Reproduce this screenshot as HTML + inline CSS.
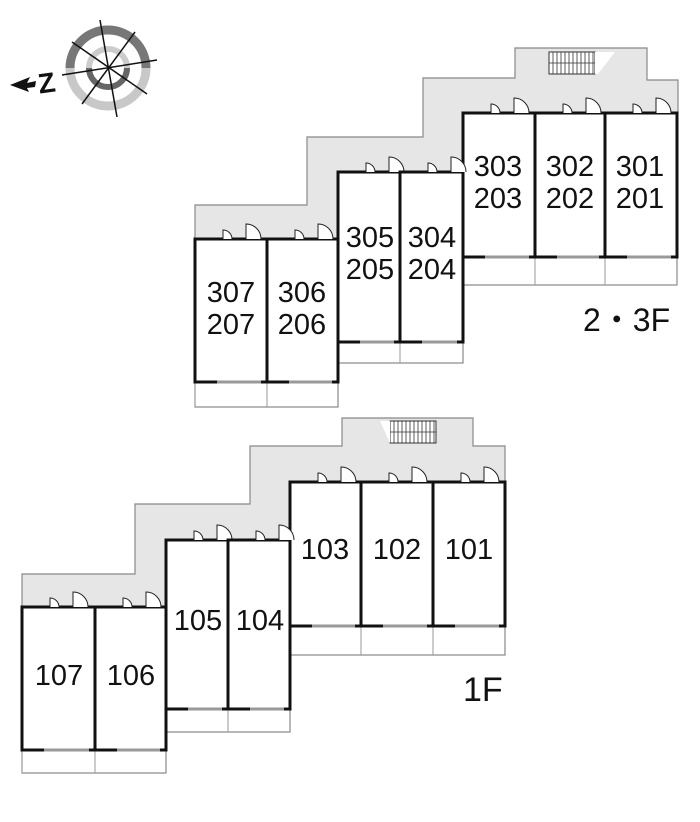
<!DOCTYPE html>
<html><head><meta charset="utf-8"><style>
html,body{margin:0;padding:0;background:#fff;}
svg{display:block;}
text{font-family:"Liberation Sans",sans-serif;fill:#111;}
</style></head><body>
<svg id="s" width="700" height="822" viewBox="0 0 700 822" xmlns="http://www.w3.org/2000/svg">
<g>
<path d="M70,68 A38,38 0 0 1 146,68" fill="none" stroke="#777" stroke-width="9"/>
<path d="M70,68 A38,38 0 0 0 146,68" fill="none" stroke="#c8c8c8" stroke-width="9"/>
<circle cx="108" cy="68" r="19" fill="none" stroke="#ccc" stroke-width="6"/>
<path d="M89,68 A19,19 0 0 0 127,68" fill="none" stroke="#666" stroke-width="6"/>
<line x1="100" y1="20" x2="117" y2="117" stroke="#111" stroke-width="1.5"/>
<line x1="72" y1="42" x2="147" y2="94" stroke="#111" stroke-width="1.5"/>
<line x1="135" y1="32" x2="82" y2="104" stroke="#111" stroke-width="1.5"/>
<line x1="62" y1="75" x2="157" y2="60" stroke="#111" stroke-width="1.5"/>
<polygon points="10,85 30,77 27,83 36,81 35,87 27,88 29,92" fill="#111"/>
<text x="38" y="92" font-size="28" font-weight="bold" transform="rotate(-8 50 82)">Z</text>
</g>
<g id="plan"></g>
<text x="583" y="331" font-size="32">2・3F</text>
<text x="463" y="701" font-size="34">1F</text>
</svg>
<script>
var g=document.getElementById('plan'),NS='http://www.w3.org/2000/svg';
function el(t,a){var e=document.createElementNS(NS,t);for(var k in a)e.setAttribute(k,a[k]);g.appendChild(e);return e;}
el('path',{d:'M195,239 L195,205 L307,205 L307,137 L423,137 L423,78 L515,78 L515,48 L647,48 L647,80 L678,80 L678,113 L463,113 L463,172 L338,172 L338,239 Z',fill:'#e6e6e6',stroke:'#888','stroke-width':1.2});
el('path',{d:'M22,607 L22,574 L135,574 L135,504 L250,504 L250,446 L342,446 L342,418 L473,418 L473,446 L505,446 L505,482 L290,482 L290,540 L166,540 L166,607 Z',fill:'#e6e6e6',stroke:'#888','stroke-width':1.2});
function stairs(x,y,w,h){el('rect',{x:x,y:y,width:w,height:h,fill:'#fff',stroke:'#333','stroke-width':1});for(var i=x+4;i<x+w;i+=4)el('line',{x1:i,y1:y,x2:i,y2:y+h,stroke:'#333','stroke-width':0.8});el('line',{x1:x,y1:y+h/2,x2:x+w,y2:y+h/2,stroke:'#333','stroke-width':0.8});}
stairs(549,52,46,22);stairs(390,421,46,22);
el('polygon',{points:'595,52 615,52 598,74 595,74',fill:'#fff'});
el('polygon',{points:'380,421 390,421 390,443',fill:'#fff'});
function block(x0,divs,x1,yt,yb,ybal){
 el('rect',{x:x0,y:yb,width:x1-x0,height:ybal-yb,fill:'#fff',stroke:'#888','stroke-width':1.2});
 var xs=[x0].concat(divs).concat([x1]);
 for(var i=0;i<xs.length-1;i++){
  var L=xs[i],R=xs[i+1];
  el('line',{x1:L,y1:yb,x2:L,y2:ybal,stroke:'#999','stroke-width':1});
  el('rect',{x:L,y:yt,width:R-L,height:yb-yt,fill:'#fff',stroke:'#111','stroke-width':3});
  var s=L+28,b=L+51;
  el('path',{d:'M'+s+','+yt+' v-9 a9,9 0 0 1 9,9',fill:'#fff',stroke:'#222','stroke-width':1});
  el('path',{d:'M'+b+','+yt+' v-15 a15,15 0 0 1 15,15',fill:'#fff',stroke:'#222','stroke-width':1});
  el('line',{x1:L+22,y1:yb,x2:R-6,y2:yb,stroke:'#999','stroke-width':3});
 }
}
function lab(x,y,s){var t=el('text',{x:x,y:y,'font-size':29,'text-anchor':'middle'});t.textContent=s;}
block(463,[535,605],677,113,257,285);
block(338,[400],463,172,342,363);
block(195,[267],338,239,382,407);
block(290,[361,433],505,482,626,655);
block(166,[228],290,540,709,732);
block(22,[95],166,607,750,773);
lab(498,176,'303');lab(498,208,'203');lab(570,176,'302');lab(570,208,'202');lab(640,176,'301');lab(640,208,'201');
lab(370,247,'305');lab(370,279,'205');lab(432,247,'304');lab(432,279,'204');
lab(231,302,'307');lab(231,334,'207');lab(302,302,'306');lab(302,334,'206');
lab(325,559,'103');lab(397,559,'102');lab(469,559,'101');
lab(198,630,'105');lab(260,630,'104');
lab(59,685,'107');lab(131,685,'106');
</script>
</body></html>
